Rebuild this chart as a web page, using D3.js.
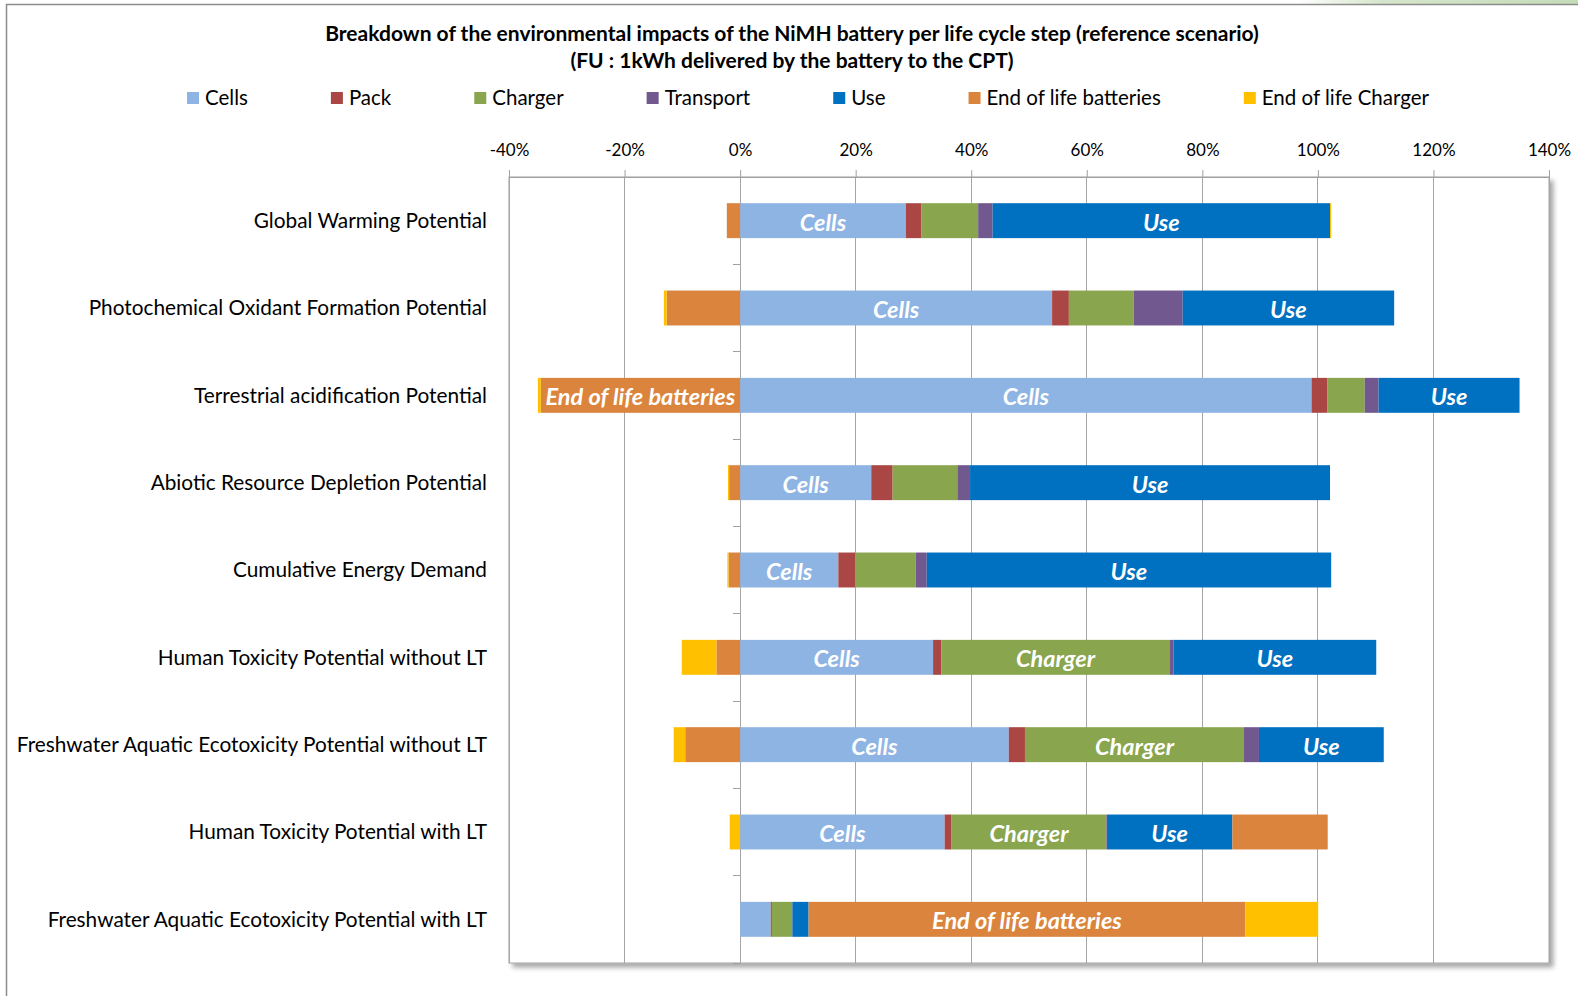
<!DOCTYPE html>
<html><head><meta charset="utf-8">
<script src="https://cdn.jsdelivr.net/npm/d3@7"></script>
<style>body{margin:0;background:#fff;overflow:hidden} svg{display:block}</style>
</head><body><svg id="c" width="1578" height="996"></svg>
<script>
const categories = [
  "Global Warming Potential",
  "Photochemical Oxidant Formation Potential",
  "Terrestrial acidification Potential",
  "Abiotic Resource Depletion Potential",
  "Cumulative Energy Demand",
  "Human Toxicity Potential without LT",
  "Freshwater Aquatic Ecotoxicity Potential without LT",
  "Human Toxicity Potential with LT",
  "Freshwater Aquatic Ecotoxicity Potential with LT"
];
const seriesNames = ["Cells","Pack","Charger","Transport","Use","End of life batteries","End of life Charger"];
const cells        = [28.7, 54.0, 98.9, 22.7, 17.0, 33.4, 46.5, 35.4, 5.3];
const pack         = [2.7, 2.9, 2.7, 3.7, 2.9, 1.4, 2.8, 1.2, 0.2];
const charger      = [9.8, 11.2, 6.5, 11.2, 10.5, 39.6, 37.9, 26.8, 3.5];
const transport    = [2.5, 8.5, 2.4, 2.2, 1.9, 0.6, 2.6, 0.1, 0.05];
const use          = [58.4, 36.6, 24.4, 62.3, 70.0, 35.1, 21.6, 21.7, 2.8];
const eolBatteries = [-2.3, -12.7, -34.5, -1.9, -2.0, -4.1, -9.5, 16.5, 75.6];
const eolCharger   = [0.2, -0.5, -0.5, -0.2, -0.2, -6.0, -2.0, -1.8, 12.6];
const colors = ["#8EB4E3","#AA4643","#89A54E","#71588F","#0070C0","#DB843D","#FFC000"];
const xTicks = [-40,-20,0,20,40,60,80,100,120,140];
const titleLines = [
  "Breakdown of the environmental impacts of the NiMH battery per life cycle step (reference scenario)",
  "(FU : 1kWh delivered by the battery to the CPT)"
];
const labelThreshold = 17;

const seriesValues = [cells, pack, charger, transport, use, eolBatteries, eolCharger];
const rows = categories.map((c, i) => {
  const r = {category: c};
  seriesNames.forEach((s, j) => r[s] = seriesValues[j][i]);
  return r;
});

const FONT = "Lato, 'Open Sans', sans-serif";
const svg = d3.select("#c");
const defs = svg.append("defs");
const f = defs.append("filter").attr("id","shadow").attr("x","-5%").attr("y","-5%").attr("width","115%").attr("height","115%");
f.append("feDropShadow").attr("dx",4).attr("dy",4).attr("stdDeviation",2.5)
 .attr("flood-color","#000").attr("flood-opacity",0.35);
const lg = defs.append("linearGradient").attr("id","grn").attr("x1","0").attr("x2","1");
lg.append("stop").attr("offset","0").attr("stop-color","#ffffff");
lg.append("stop").attr("offset","0.3").attr("stop-color","#d6e6cc");
lg.append("stop").attr("offset","1").attr("stop-color","#c5dcb8");

// top-right background fragment and chart border
svg.append("rect").attr("x",1296).attr("y",0).attr("width",282).attr("height",4).attr("fill","url(#grn)");
svg.append("path").attr("d","M6.5,1000 V4.5 H1580").attr("fill","none").attr("stroke","#8c8c8c").attr("stroke-width",1.5);

const plot = {left: 509, right: 1549, top: 177, bottom: 963};
const x = d3.scaleLinear().domain([xTicks[0], xTicks[xTicks.length-1]]).range([plot.left, plot.right]);
const y = d3.scaleBand().domain(categories).range([plot.top, plot.bottom]).paddingInner(0.6).paddingOuter(0.3);

// plot area
svg.append("rect").attr("x",plot.left).attr("y",plot.top).attr("width",plot.right-plot.left).attr("height",plot.bottom-plot.top)
  .attr("fill","#fff").attr("stroke","#a0a0a0").attr("stroke-width",1).attr("filter","url(#shadow)");

// gridlines
svg.append("g").selectAll("line").data(xTicks).join("line")
  .attr("x1", d => x(d)).attr("x2", d => x(d)).attr("y1", plot.top).attr("y2", plot.bottom)
  .attr("stroke","#a6a6a6").attr("stroke-width",1).attr("shape-rendering","crispEdges");

// top value axis
const ax = svg.append("g").attr("transform",`translate(0,${plot.top})`)
  .call(d3.axisTop(x).tickValues(xTicks).tickFormat(d => d + "%").tickSize(7).tickSizeOuter(0).tickPadding(14));
ax.select(".domain").attr("stroke","#a0a0a0");
ax.selectAll(".tick line").attr("stroke","#a0a0a0");
ax.selectAll(".tick text").attr("font-family",FONT).attr("font-size",17).attr("fill","#000");

// category axis ticks at x=0
const boundaries = categories.map(c => y(c) - y.step()*y.paddingInner()/2).concat([plot.bottom]);
svg.append("g").selectAll("line").data(boundaries).join("line")
  .attr("x1", x(0)-7).attr("x2", x(0)).attr("y1", d => d).attr("y2", d => d)
  .attr("stroke","#a0a0a0").attr("shape-rendering","crispEdges");

// stacked bars
const stack = d3.stack().keys(seriesNames).offset(d3.stackOffsetDiverging);
const stacked = stack(rows);
const bars = svg.append("g");
stacked.forEach((s, j) => {
  bars.append("g").attr("fill", colors[j]).selectAll("rect").data(s).join("rect")
    .attr("x", d => x(Math.min(d[0], d[1])))
    .attr("width", d => Math.abs(x(d[1]) - x(d[0])))
    .attr("y", d => y(d.data.category))
    .attr("height", y.bandwidth());
});
// in-bar labels
const labels = svg.append("g");
stacked.forEach((s, j) => {
  labels.selectAll(null).data(s.filter(d => Math.abs(d.data[seriesNames[j]]) >= labelThreshold)).join("text")
    .attr("x", d => (x(d[0]) + x(d[1]))/2)
    .attr("y", d => y(d.data.category) + y.bandwidth()/2 + 1.5)
    .attr("dy","0.36em").attr("text-anchor","middle")
    .attr("font-family",FONT).attr("font-weight","bold").attr("font-style","italic")
    .attr("font-size",23.5).attr("fill","#fff")
    .text(seriesNames[j]);
});

// category labels
svg.append("g").selectAll("text").data(categories).join("text")
  .attr("x", 487).attr("y", d => y(d) + y.bandwidth()/2).attr("dy","0.36em")
  .attr("text-anchor","end").attr("font-family",FONT).attr("font-size",20.8).attr("fill","#000")
  .text(d => d);

// title
svg.append("g").selectAll("text").data(titleLines).join("text")
  .attr("x", 792).attr("y", (d,i) => 40.5 + i*27).attr("text-anchor","middle")
  .attr("font-family",FONT).attr("font-weight","bold").attr("font-size",21).attr("fill","#000")
  .text(d => d);

// legend
const legend = svg.append("g");
const items = legend.selectAll("g").data(seriesNames).join("g");
items.append("rect").attr("width",12).attr("height",12).attr("fill",(d,i) => colors[i]);
items.append("text").attr("x",18).attr("y",6).attr("dy","0.36em")
  .attr("font-family",FONT).attr("font-size",20.5).attr("fill","#000").text(d => d);
const widths = [];
items.each(function(){ widths.push(18 + d3.select(this).select("text").node().getComputedTextLength()); });
const legStart = 187, legEnd = 1429;
const gap = (legEnd - legStart - d3.sum(widths)) / (widths.length - 1);
let cx = legStart;
items.attr("transform", (d,i) => { const t = `translate(${cx},${92})`; cx += widths[i] + gap; return t; });
</script>
</body></html>
